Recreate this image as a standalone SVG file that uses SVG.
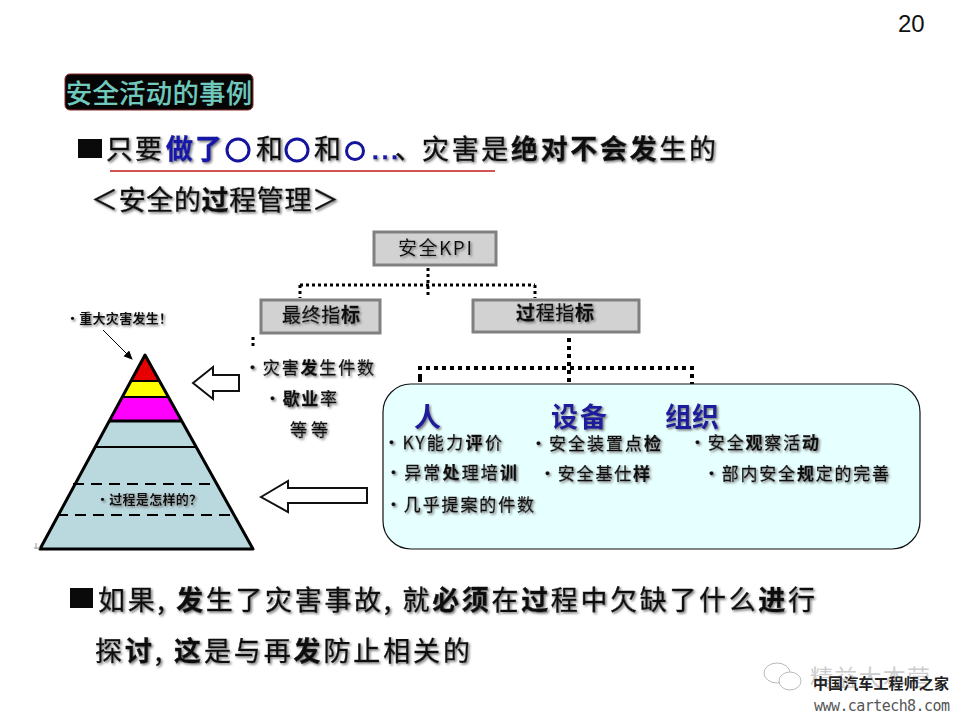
<svg xmlns="http://www.w3.org/2000/svg" width="960" height="720" viewBox="0 0 960 720">
<defs>
<filter id="sh" x="-5%" y="-20%" width="110%" height="150%"><feDropShadow dx="1.5" dy="1.5" stdDeviation="1" flood-color="#777"/></filter>
<marker id="ah" markerWidth="9" markerHeight="9" refX="8" refY="4" orient="auto" markerUnits="userSpaceOnUse"><path d="M0,0 L9,4 L0,8 Z" fill="#000"/></marker>
</defs>
<style>
text{font-family:"Noto Sans CJK SC","Liberation Sans",sans-serif;fill:#111}
.big{font-size:27px;filter:url(#sh);stroke:#111;stroke-width:.4px}
.mid{font-size:17px;filter:url(#sh);stroke:#111;stroke-width:.3px}
.sm{font-size:13px;filter:url(#sh);font-weight:700}
.hd{font-size:27px;font-weight:700;fill:#1a1a9c;filter:url(#sh)}
.b{font-weight:700}
.blue{fill:#1414a8;stroke:#1414a8;font-weight:700}
.box{fill:#d2d2d2;stroke:#808080;stroke-width:3}
.dot{fill:none;stroke:#000;stroke-width:3;stroke-dasharray:3 3}
.tier{stroke:#000;stroke-width:2}
.dash{stroke:#000;stroke-width:2;stroke-dasharray:11 7;fill:none}
.hollow{fill:#fff;stroke:#111;stroke-width:2}
.ring{fill:none;stroke:#14149c;stroke-width:3}
</style>
<rect width="960" height="720" fill="#fff"/>
<text x="898" y="32" style="font-family:'Liberation Sans',sans-serif;font-size:24px">20</text>

<g id="title">
<rect x="65" y="74" width="188" height="36" rx="5" fill="#050505" stroke="#8a2a2a" stroke-width="1"/>
<text x="66" y="103" textLength="186" style="font-size:26px;fill:#62cbbd;stroke:#8fd8cc;stroke-width:.5px">安全活动的事例</text>
</g>

<g id="headline">
<rect x="78" y="139" width="24" height="19" fill="#0a0a0a"/>
<text class="big" x="106" y="159" textLength="56">只要</text>
<text class="big blue" x="166" y="159" textLength="56">做了</text>
<circle class="ring" cx="238" cy="150" r="11"/>
<text class="big" x="256" y="159">和</text>
<circle class="ring" cx="297" cy="150" r="11"/>
<text class="big" x="314" y="159">和</text>
<circle class="ring" cx="355" cy="151" r="8.5"/>
<text class="big blue" x="372" y="159" textLength="26" style="font-family:'Liberation Sans',sans-serif;font-size:24px">...</text>
<text class="big" x="395" y="159">、</text>
<text class="big" x="422" y="159" textLength="294">灾害是<tspan class="b">绝对不会发</tspan>生的</text>
<line x1="110" y1="171" x2="495" y2="171" stroke="#c41a1a" stroke-width="1.6"/>
<text class="big" x="91" y="210" textLength="248">＜安全的<tspan class="b">过</tspan>程管理＞</text>
</g>

<g id="connectors">
<path class="dot" d="M428,268 V297 M300,285 H535 M300,285 V298 M535,285 V298"/>
<path class="dot" d="M253,337 V346" />
<path class="dot" style="stroke-width:4;stroke-dasharray:4 4" d="M569,338 V402 M420,378 V368 H692 V398 M420,378 V398"/>
<line x1="103" y1="330" x2="132" y2="359" stroke="#000" stroke-width="1" marker-end="url(#ah)"/>
</g>

<g id="kpi"><rect class="box" x="374" y="232" width="122" height="33"/><text x="398" y="255" textLength="74" style="font-size:19px;filter:url(#sh)">安全KPI</text></g>
<g id="final"><rect class="box" x="261" y="300" width="119" height="33"/><text x="282" y="322" textLength="78" style="font-size:19px;filter:url(#sh);stroke:#111;stroke-width:.3px">最终指<tspan class="b">标</tspan></text></g>
<g id="process"><rect class="box" x="473" y="300" width="166" height="32"/><text x="516" y="320" textLength="78" style="font-size:19px;filter:url(#sh);stroke:#111;stroke-width:.3px"><tspan class="b">过</tspan>程指<tspan class="b">标</tspan></text></g>

<g id="pyramid">
<path d="M41,548 L145,355 L253,548 Z" fill="#b9d9df"/>
<path d="M145,355 L159,381 H131 Z" fill="#e60000"/>
<path d="M131,381 H159 L168,397 H122 Z" fill="#ffff00"/>
<path d="M122,397 H168 L180,421 H109 Z" fill="#ff00ff"/>
<path d="M40,549 L145,355 L253,549 Z" fill="none" stroke="#000" stroke-width="3" stroke-linejoin="round"/>
<line class="tier" x1="131" y1="381" x2="159" y2="381"/>
<line class="tier" x1="122" y1="397" x2="168" y2="397"/>
<line x1="109" y1="421" x2="181" y2="421" stroke="#000" stroke-width="3"/>
<line class="tier" x1="95" y1="447" x2="195" y2="447"/>
<line class="dash" x1="73" y1="484" x2="216" y2="484"/>
<line class="dash" x1="57" y1="515" x2="232" y2="515"/>
<path d="M34,548 H40 M36,543 V549" stroke="#999" stroke-width="1" fill="none"/>
<text class="sm" x="66" y="323" textLength="106">・重大灾害发生！</text>
<text class="sm" x="96" y="504" textLength="106">・过程是怎样的？</text>
</g>

<g id="arrow-top"><path class="hollow" d="M193,383 L213,367 V375 H239 V391 H213 V399 Z"/></g>
<g id="arrow-bottom"><path class="hollow" d="M261,497 L288,481 V488 H367 V503 H288 V512 Z"/></g>

<g id="final-items">
<text class="mid" x="244" y="374" textLength="130">・灾害<tspan class="b">发</tspan>生件数</text>
<text class="mid" x="264" y="405" textLength="73">・<tspan class="b">歇业</tspan>率</text>
<text class="mid" x="290" y="436" textLength="38">等等</text>
</g>

<g id="panel">
<rect x="383" y="384" width="537" height="165" rx="28" fill="#e6ffff" stroke="#111" stroke-width="1.2"/>
<text class="hd" x="414" y="427">人</text>
<text class="hd" x="551" y="427" textLength="56">设备</text>
<text class="hd" x="665" y="427" textLength="54">组织</text>
<text class="mid" x="383" y="449" textLength="119">・KY能力<tspan class="b">评</tspan>价</text>
<text class="mid" x="530" y="450" textLength="131">・安全装置点<tspan class="b">检</tspan></text>
<text class="mid" x="689" y="449" textLength="130">・安全<tspan class="b">观</tspan>察活<tspan class="b">动</tspan></text>
<text class="mid" x="385" y="479" textLength="132">・异常<tspan class="b">处</tspan>理培<tspan class="b">训</tspan></text>
<text class="mid" x="539" y="480" textLength="111">・安全基仕<tspan class="b">样</tspan></text>
<text class="mid" x="703" y="480" textLength="186">・部内安全<tspan class="b">规</tspan>定的完善</text>
<text class="mid" x="385" y="511" textLength="149">・几乎提案的件数</text>
</g>

<g id="conclusion">
<rect x="70" y="588" width="23" height="20" fill="#0a0a0a"/>
<text class="big" x="98" y="610" textLength="717">如果, <tspan class="b">发</tspan>生了灾害事故, 就<tspan class="b">必须</tspan>在<tspan class="b">过</tspan>程中欠缺了什么<tspan class="b">进</tspan>行</text>
<text class="big" x="95" y="661" textLength="375">探<tspan class="b">讨</tspan>, <tspan class="b">这</tspan>是与再<tspan class="b">发</tspan>防止相关的</text>
</g>

<g id="watermark">
<g fill="none" stroke="#bbb" stroke-width="1"><ellipse cx="777" cy="673" rx="13" ry="10"/><ellipse cx="790" cy="681" rx="11" ry="9" fill="#fff"/></g>
<text x="810" y="686" textLength="120" style="font-size:23px;fill:#ccc">精益大本营</text>
<text x="813" y="689" textLength="136" style="font-size:15px;font-weight:700;fill:#222">中国汽车工程师之家</text>
<text x="814" y="711" textLength="136" style="font-family:'DejaVu Sans Mono',monospace;font-size:15px;fill:#555">www.cartech8.com</text>
</g>
</svg>
